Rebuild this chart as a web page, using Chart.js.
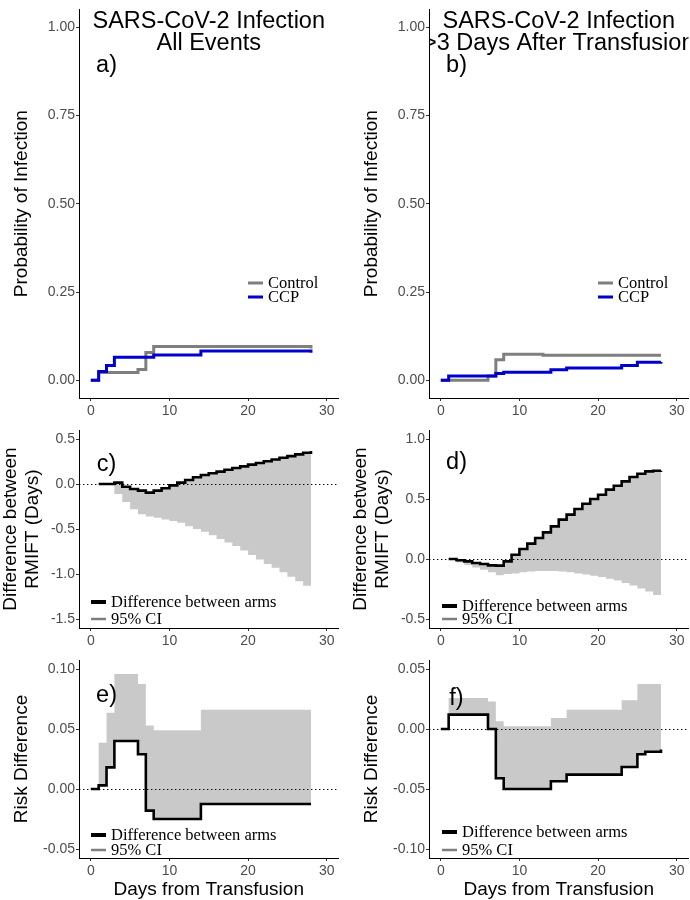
<!DOCTYPE html>
<html>
<head>
<meta charset="utf-8">
<script src="https://cdn.jsdelivr.net/npm/chart.js@4.4.1/dist/chart.umd.min.js"></script>
<style>
  body { margin: 0; background: #fff; }
  #wrap { position: relative; width: 690px; height: 900px; overflow: hidden; }
  #wrap canvas { position: absolute; left: 0; top: 0; }
</style>
</head>
<body>
<div id="wrap">
  <canvas id="pa" width="690" height="900"></canvas>
  <canvas id="pb" width="690" height="900"></canvas>
  <canvas id="pc" width="690" height="900"></canvas>
  <canvas id="pd" width="690" height="900"></canvas>
  <canvas id="pe" width="690" height="900"></canvas>
  <canvas id="pf" width="690" height="900"></canvas>
</div>
<script>
// Tick labels
const xTicks = [0, 10, 20, 30];
const probTicks = [0, 0.25, 0.5, 0.75, 1];
const rmiftTicksC = [-1.5, -1, -0.5, 0, 0.5];
const rmiftTicksD = [-0.5, 0, 0.5, 1];
const riskTicksE = [-0.05, 0, 0.05, 0.1];
const riskTicksF = [-0.1, -0.05, 0, 0.05];

// a) cumulative infection, all events
const ctrlA_days = [0, 1, 6, 7, 8, 28];
const ctrlA_prob = [0, 0.022, 0.031, 0.079, 0.096, 0.090];
const ccpA_days = [0, 1, 2, 3, 8, 14, 28];
const ccpA_prob = [0, 0.025, 0.042, 0.065, 0.072, 0.083, 0.078];

// b) cumulative infection, >3 days after transfusion
const ctrlB_days = [0, 6, 7, 8, 13, 28];
const ctrlB_prob = [0, 0.012, 0.058, 0.074, 0.071, 0.071];
const ccpB_days = [0, 1, 7, 8, 14, 16, 23, 25, 28];
const ccpB_prob = [0, 0.012, 0.019, 0.023, 0.030, 0.035, 0.042, 0.051, 0.052];

// c) / d) RMIFT difference by day
const rmiftDays = [1, 2, 3, 4, 5, 6, 7, 8, 9, 10, 11, 12, 13, 14, 15, 16, 17, 18, 19, 20, 21, 22, 23, 24, 25, 26, 27, 28];
const rmiftC_diff = [0, 0, 0.015, -0.03, -0.055, -0.074, -0.096, -0.074, -0.048, -0.015, 0.015, 0.045, 0.075, 0.1, 0.12, 0.138, 0.158, 0.177, 0.196, 0.215, 0.234, 0.253, 0.272, 0.291, 0.31, 0.329, 0.348, 0.367];
const rmiftC_bound = [0, -0.005, -0.11, -0.2, -0.28, -0.335, -0.36, -0.375, -0.395, -0.41, -0.43, -0.47, -0.5, -0.53, -0.57, -0.61, -0.65, -0.69, -0.74, -0.79, -0.84, -0.89, -0.93, -0.98, -1.03, -1.08, -1.13, -1.17];
const rmiftD_diff = [0, -0.01, -0.02, -0.033, -0.042, -0.053, -0.055, -0.02, 0.036, 0.083, 0.128, 0.175, 0.222, 0.272, 0.328, 0.37, 0.417, 0.46, 0.5, 0.536, 0.578, 0.61, 0.647, 0.683, 0.71, 0.73, 0.735, 0.736];
const rmiftD_bound = [-0.005, -0.03, -0.05, -0.07, -0.09, -0.11, -0.135, -0.125, -0.12, -0.11, -0.105, -0.1, -0.1, -0.1, -0.105, -0.11, -0.12, -0.13, -0.14, -0.15, -0.165, -0.18, -0.2, -0.22, -0.245, -0.27, -0.3, -0.345];

// e) risk difference, all events
const riskE_days = [0, 1, 2, 3, 6, 7, 8, 14, 28];
const riskE_diff = [0, 0.003, 0.018, 0.040, 0.029, -0.018, -0.025, -0.0125, -0.0125];
const riskE_bound = [0, 0.0386, 0.0636, 0.0958, 0.0875, 0.053, 0.049, 0.066, 0.066];

// f) risk difference, >3 days after transfusion
const riskF_days = [0, 1, 6, 7, 8, 14, 16, 23, 25, 26, 28];
const riskF_diff = [0, 0.012, 0, -0.041, -0.05, -0.0436, -0.038, -0.0317, -0.021, -0.019, -0.017];
const riskF_bound = [0, 0.0258, 0.023, 0.0064, 0.0022, 0.0092, 0.016, 0.024, 0.0375, 0.0375, 0.0375];

const GREY = '#7f7f7f';
const BLUE = '#0000cd';
const BAND = '#c9c9c9';
const SANS = '"Liberation Sans", Arial, sans-serif';
const SERIF = '"Liberation Serif", "Times New Roman", serif';

function pts(xs, ys) {
  return xs.map((x, i) => ({ x: x, y: ys[i] }));
}

function stepLine(xs, ys, color, width) {
  return {
    data: pts(xs, ys), borderColor: color, borderWidth: width, stepped: true,
    pointRadius: 0, fill: false, borderCapStyle: 'butt', borderJoinStyle: 'miter'
  };
}

function band(xs, ys) {
  return {
    data: pts(xs, ys), borderColor: 'rgba(0,0,0,0)', borderWidth: 0, stepped: true,
    pointRadius: 0, fill: '-1', backgroundColor: BAND
  };
}

const armsLegend = [
  { label: 'Difference between arms', color: '#000', w: 4 },
  { label: '95% CI', color: GREY, w: 2.5 }
];
const probLegend = [
  { label: 'Control', color: GREY, w: 3 },
  { label: 'CCP', color: BLUE, w: 3 }
];

const panels = [
  { id: 'pa', left: 79, right: 338.5, top: 2, bottom: 398, yMin: -0.05, yMax: 1.05, yTicks: probTicks, dec: 2,
    yTitle: ['Probability of Infection'], yTitleOff: [52], title: ['SARS-CoV-2 Infection', 'All Events'],
    titleY: [28, 50], tag: 'a)', tagY: 72, zero: false, legend: probLegend, legX: 169, legY: [283, 297],
    datasets: [stepLine(ccpA_days, ccpA_prob, BLUE, 3), stepLine(ctrlA_days, ctrlA_prob, GREY, 3)] },
  { id: 'pb', left: 429, right: 688.5, top: 2, bottom: 398, yMin: -0.05, yMax: 1.05, yTicks: probTicks, dec: 2,
    yTitle: ['Probability of Infection'], yTitleOff: [52], title: ['SARS-CoV-2 Infection', '>3 Days After Transfusion'],
    titleY: [28, 50], tag: 'b)', tagY: 72, zero: false, legend: probLegend, legX: 169, legY: [283, 297],
    datasets: [stepLine(ccpB_days, ccpB_prob, BLUE, 3), stepLine(ctrlB_days, ctrlB_prob, GREY, 3)] },
  { id: 'pc', left: 79, right: 338.5, top: 430, bottom: 628, yMin: -1.6, yMax: 0.6, yTicks: rmiftTicksC, dec: 1,
    yTitle: ['Difference between', 'RMIFT (Days)'], yTitleOff: [63, 41], tag: 'c)', tagY: 471, zero: true,
    legend: armsLegend, legX: 12, legY: [602, 619],
    datasets: [stepLine(rmiftDays, rmiftC_diff, '#000', 2.6), band(rmiftDays, rmiftC_bound)] },
  { id: 'pd', left: 429, right: 688.5, top: 430, bottom: 628, yMin: -0.575, yMax: 1.075, yTicks: rmiftTicksD, dec: 1,
    yTitle: ['Difference between', 'RMIFT (Days)'], yTitleOff: [63, 41], tag: 'd)', tagY: 469, zero: true,
    legend: armsLegend, legX: 13, legY: [606, 619],
    datasets: [stepLine(rmiftDays, rmiftD_diff, '#000', 2.6), band(rmiftDays, rmiftD_bound)] },
  { id: 'pe', left: 79, right: 338.5, top: 660, bottom: 858, yMin: -0.0575, yMax: 0.1075, yTicks: riskTicksE, dec: 2,
    yTitle: ['Risk Difference'], yTitleOff: [52], tag: 'e)', tagY: 702, zero: true, xTitle: true,
    legend: armsLegend, legX: 12, legY: [835, 850],
    datasets: [stepLine(riskE_days, riskE_diff, '#000', 2.6), band(riskE_days, riskE_bound)] },
  { id: 'pf', left: 429, right: 688.5, top: 660, bottom: 858, yMin: -0.1075, yMax: 0.0575, yTicks: riskTicksF, dec: 2,
    yTitle: ['Risk Difference'], yTitleOff: [52], tag: 'f)', tagY: 705, zero: true, xTitle: true,
    legend: armsLegend, legX: 13, legY: [832, 850],
    datasets: [stepLine(riskF_days, riskF_diff, '#000', 2.6), band(riskF_days, riskF_bound)] }
];

function decor(p) {
  return {
    id: 'decor',
    afterDatasetsDraw(chart) {
      const ctx = chart.ctx;
      const a = chart.chartArea;
      const xs = chart.scales.x;
      const ys = chart.scales.y;
      ctx.save();
      // dotted reference at zero
      if (p.zero) {
        const y0 = Math.round(ys.getPixelForValue(0)) + 0.5;
        ctx.strokeStyle = '#000';
        ctx.lineWidth = 1;
        ctx.setLineDash([1.4, 2.6]);
        ctx.beginPath();
        ctx.moveTo(a.left, y0);
        ctx.lineTo(a.right, y0);
        ctx.stroke();
        ctx.setLineDash([]);
      }
      // texts inside the panel are clipped to it
      ctx.beginPath();
      ctx.rect(a.left, a.top, a.right - a.left, a.bottom - a.top);
      ctx.clip();
      ctx.fillStyle = '#000';
      ctx.textAlign = 'center';
      ctx.textBaseline = 'alphabetic';
      ctx.font = '23.5px ' + SANS;
      if (p.title) {
        const cx = xs.getPixelForValue(15);
        p.title.forEach((t, i) => ctx.fillText(t, cx, p.titleY[i]));
      }
      ctx.fillText(p.tag, xs.getPixelForValue(2), p.tagY);

      // legend
      ctx.font = '16.5px ' + SERIF;
      ctx.textAlign = 'left';
      ctx.textBaseline = 'middle';
      p.legend.forEach((item, i) => {
        const y = p.legY[i];
        const x0 = a.left + p.legX;
        ctx.strokeStyle = item.color;
        ctx.lineWidth = item.w;
        ctx.lineCap = 'butt';
        ctx.beginPath();
        ctx.moveTo(x0, y);
        ctx.lineTo(x0 + 15, y);
        ctx.stroke();
        ctx.fillStyle = '#000';
        ctx.fillText(item.label, x0 + 20, y + 1);
      });
      ctx.restore();
    },
    afterDraw(chart) {
      const ctx = chart.ctx;
      const a = chart.chartArea;
      ctx.save();
      ctx.fillStyle = '#000';
      ctx.font = '19px ' + SANS;
      ctx.textAlign = 'center';
      ctx.textBaseline = 'alphabetic';
      const cy = (a.top + a.bottom) / 2;
      p.yTitle.forEach((t, i) => {
        ctx.save();
        ctx.translate(a.left - p.yTitleOff[i], cy);
        ctx.rotate(-Math.PI / 2);
        ctx.fillText(t, 0, 0);
        ctx.restore();
      });
      if (p.xTitle) {
        ctx.fillText('Days from Transfusion', (a.left + a.right) / 2, 895);
      }
      ctx.restore();
    }
  };
}

const Y_AXIS_W = 60;
const X_AXIS_H = 26;

panels.forEach((p) => {
  const tickFont = { family: SANS, size: 14 };
  new Chart(document.getElementById(p.id), {
    type: 'line',
    data: { datasets: p.datasets },
    options: {
      responsive: false,
      animation: false,
      devicePixelRatio: 1,
      layout: {
        padding: { left: p.left - Y_AXIS_W, right: 690 - p.right, top: p.top, bottom: 900 - p.bottom - X_AXIS_H }
      },
      plugins: { legend: { display: false }, tooltip: { enabled: false }, title: { display: false } },
      scales: {
        x: {
          type: 'linear', min: -1.5, max: 31.5,
          afterBuildTicks: (s) => { s.ticks = xTicks.map((v) => ({ value: v })); },
          afterFit: (s) => { s.height = X_AXIS_H; },
          grid: { drawOnChartArea: false, drawTicks: true, tickLength: 3, tickColor: '#333', tickWidth: 1 },
          border: { display: true, color: '#000', width: 1 },
          ticks: { color: '#4d4d4d', font: tickFont, padding: 2, maxRotation: 0, autoSkip: false }
        },
        y: {
          type: 'linear', min: p.yMin, max: p.yMax,
          afterBuildTicks: (s) => { s.ticks = p.yTicks.map((v) => ({ value: v })); },
          afterFit: (s) => { s.width = Y_AXIS_W; },
          grid: { drawOnChartArea: false, drawTicks: true, tickLength: 3, tickColor: '#333', tickWidth: 1 },
          border: { display: true, color: '#000', width: 1 },
          ticks: { color: '#4d4d4d', font: tickFont, padding: 1, autoSkip: false,
            callback: (v) => Number(v).toFixed(p.dec) }
        }
      }
    },
    plugins: [decor(p)]
  });
});
</script>
</body>
</html>
